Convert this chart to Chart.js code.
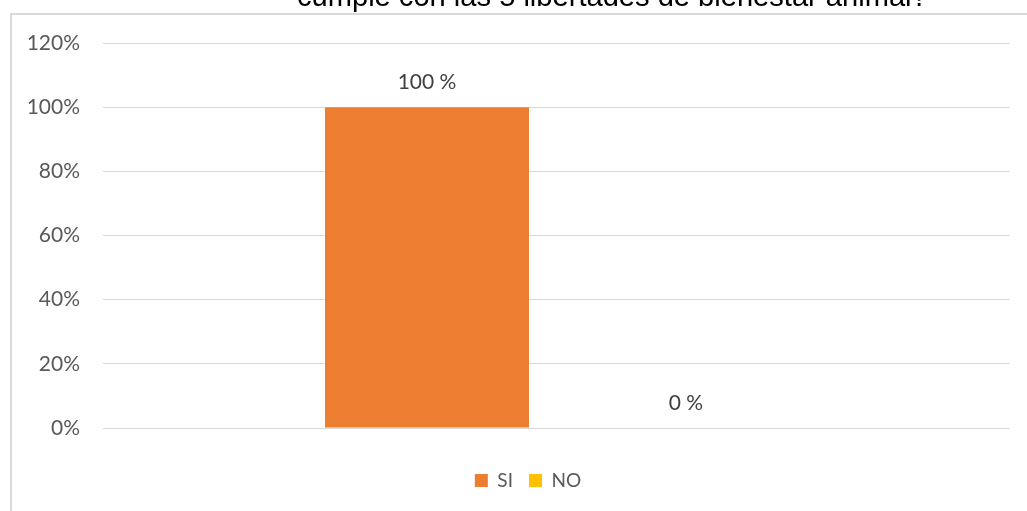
<!DOCTYPE html>
<html>
<head>
<meta charset="utf-8">
<script src="https://cdn.jsdelivr.net/npm/chart.js@4"></script>
<style>
  html, body { margin: 0; padding: 0; background: #fff; overflow: hidden; }
  #wrap { position: relative; width: 1027px; height: 511px; }
</style>
</head>
<body>
<div id="wrap"><canvas id="chart" width="1027" height="511"></canvas></div>
<script>
// values
const categories = [""];
const seriesNames = ["SI", "NO"];
const siValues = [100];
const noValues = [0];
const yTicks = [0, 20, 40, 60, 80, 100, 120];
const titleText = "cumple con las 5 libertades de bienestar animal?";

const textColor = "#595959";
const gridColor = "#d9d9d9";
const labelFont = 'Lato, "Open Sans", sans-serif';

// frame + cropped title, drawn behind the chart
const framePlugin = {
  id: "frame",
  afterLayout(chart) {
    // the legend sits a little right of centre in the picture
    chart.legend.left += 18;
    chart.legend.right += 18;
  },
  beforeDraw(chart) {
    const ctx = chart.ctx;
    ctx.save();
    ctx.strokeStyle = gridColor;
    ctx.lineWidth = 2;
    ctx.strokeRect(11, 14, 1100, 600);
    ctx.fillStyle = "#000";
    ctx.textBaseline = "alphabetic";
    ctx.textAlign = "left";
    // fit the title to the width it has in the picture
    let size = 24;
    ctx.font = `${size}px "Liberation Sans", Arial, sans-serif`;
    size = size * 631 / ctx.measureText(titleText).width;
    ctx.font = `${size}px "Liberation Sans", Arial, sans-serif`;
    ctx.fillText(titleText, 297, 6);
    ctx.restore();
  },
};

// value labels above each bar
const valueLabels = {
  id: "valueLabels",
  afterDatasetsDraw(chart) {
    const ctx = chart.ctx;
    ctx.save();
    ctx.font = `21px ${labelFont}`;
    ctx.fillStyle = "#404040";
    ctx.textAlign = "center";
    ctx.textBaseline = "alphabetic";
    chart.data.datasets.forEach((ds, i) => {
      const meta = chart.getDatasetMeta(i);
      meta.data.forEach((bar, j) => {
        ctx.fillText(`${ds.data[j]} %`, bar.x, bar.y - 18);
      });
    });
    ctx.restore();
  },
};

new Chart(document.getElementById("chart"), {
  type: "bar",
  data: {
    labels: categories,
    datasets: [
      { label: seriesNames[0], data: siValues, backgroundColor: "#ed7d31" },
      { label: seriesNames[1], data: noValues, backgroundColor: "#ffc000" },
    ],
  },
  options: {
    responsive: false,
    animation: false,
    events: [],
    categoryPercentage: 0.5711,
    barPercentage: 0.7876,
    layout: {
      padding: { left: 10, right: 17, top: 43, bottom: 11 },
    },
    plugins: {
      title: { display: false },
      tooltip: { enabled: false },
      legend: {
        position: "bottom",
        labels: {
          boxWidth: 13,
          boxHeight: 13,
          padding: 16,
          color: textColor,
          font: { family: labelFont, size: 19 },
        },
      },
    },
    scales: {
      x: {
        display: true,
        afterFit: (scale) => {
          scale.height = 27;
        },
        grid: { display: false },
        border: { display: false },
        ticks: { display: false },
      },
      y: {
        min: 0,
        max: 120,
        afterBuildTicks: (scale) => {
          scale.ticks = yTicks.map((v) => ({ value: v }));
        },
        afterFit: (scale) => {
          scale.width = 93;
        },
        grid: { color: gridColor, lineWidth: 1, drawTicks: false },
        border: { display: false },
        ticks: {
          padding: 23,
          color: textColor,
          font: { family: labelFont, size: 21 },
          callback: (v) => `${v}%`,
        },
      },
    },
  },
  plugins: [framePlugin, valueLabels],
});
</script>
</body>
</html>
